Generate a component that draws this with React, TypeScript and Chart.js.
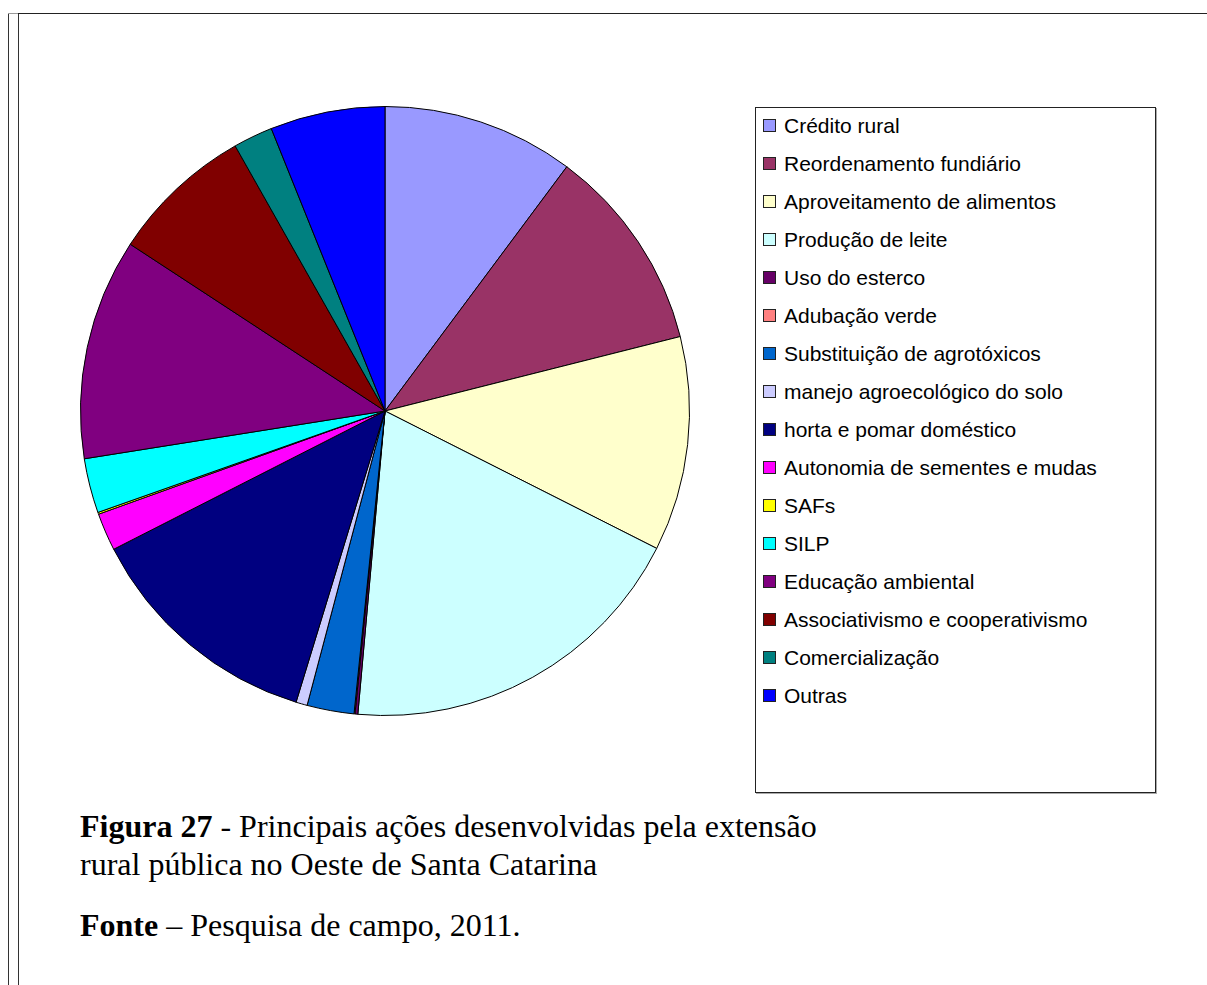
import React, { useEffect, useRef } from "react";
import { Chart, registerables } from "chart.js";

Chart.register(...registerables);

const categories: string[] = [
  "Crédito rural",
  "Reordenamento fundiário",
  "Aproveitamento de alimentos",
  "Produção de leite",
  "Uso do esterco",
  "Adubação verde",
  "Substituição de agrotóxicos",
  "manejo agroecológico do solo",
  "horta e pomar doméstico",
  "Autonomia de sementes e mudas",
  "SAFs",
  "SILP",
  "Educação ambiental",
  "Associativismo e cooperativismo",
  "Comercialização",
  "Outras",
];

const values: number[] = [10.2, 10.9, 11.4, 19.0, 0.15, 0.05, 2.5, 0.6, 12.8, 2.0, 0.1, 2.9, 11.75, 7.6, 2.1, 6.1];

const colors: string[] = [
  "#9999FF", "#993366", "#FFFFCC", "#CCFFFF", "#660066", "#FF8080", "#0066CC", "#CCCCFF",
  "#000080", "#FF00FF", "#FFFF00", "#00FFFF", "#800080", "#800000", "#008080", "#0000FF",
];

const captionBold = "Figura 27";
const captionLine1 = " - Principais ações desenvolvidas pela extensão";
const captionLine2 = "rural pública no Oeste de Santa Catarina";
const sourceBold = "Fonte";
const sourceText = " – Pesquisa de campo, 2011.";

export default function App() {
  const ref = useRef<HTMLCanvasElement | null>(null);

  useEffect(() => {
    if (!ref.current) return;
    const chart = new Chart(ref.current, {
      type: "pie",
      data: {
        labels: categories,
        datasets: [
          {
            data: values,
            backgroundColor: colors,
            borderColor: "#000000",
            borderWidth: 1,
          },
        ],
      },
      options: {
        responsive: false,
        animation: false,
        layout: { padding: 0 },
        plugins: { legend: { display: false }, tooltip: { enabled: false } },
      },
    });
    return () => chart.destroy();
  }, []);

  const serif = "'Liberation Serif', 'Times New Roman', serif";
  const sans = "'Liberation Sans', Arial, sans-serif";

  return (
    <div style={{ position: "absolute", left: 0, top: 0, width: 1207, height: 985, background: "#fff", overflow: "hidden" }}>
      <div style={{ position: "absolute", left: 8, top: 13, width: 1, height: 980, background: "#333" }} />
      <div style={{ position: "absolute", left: 18, top: 13, width: 1, height: 980, background: "#333" }} />
      <div style={{ position: "absolute", left: 8, top: 13, width: 10, height: 1, background: "#999" }} />
      <div style={{ position: "absolute", left: 18, top: 13, width: 1189, height: 1, background: "#222" }} />

      <canvas ref={ref} width={610} height={610} style={{ position: "absolute", left: 80, top: 106, width: 610, height: 610 }} />

      <div
        style={{
          position: "absolute",
          left: 755,
          top: 107,
          width: 401,
          height: 686,
          border: "1px solid #222",
          boxShadow: "1px 1px 0 #aaa",
          boxSizing: "border-box",
        }}
      >
        {categories.map((c, i) => (
          <div key={c} style={{ position: "absolute", left: 0, top: 18 + 38 * i - 13, height: 26, width: 395 }}>
            <div
              style={{
                position: "absolute",
                left: 7,
                top: 6,
                width: 13,
                height: 13,
                boxSizing: "border-box",
                border: "1px solid #222",
                background: colors[i],
              }}
            />
            <div
              style={{
                position: "absolute",
                left: 28,
                top: 0,
                height: 26,
                lineHeight: "26px",
                fontFamily: sans,
                fontSize: 21,
                color: "#000",
                whiteSpace: "nowrap",
              }}
            >
              {c}
            </div>
          </div>
        ))}
      </div>

      <div style={{ position: "absolute", left: 80, top: 807, fontFamily: serif, fontSize: 32, lineHeight: "38px", color: "#000", whiteSpace: "nowrap" }}>
        <div>
          <b>{captionBold}</b>
          {captionLine1}
        </div>
        <div>{captionLine2}</div>
      </div>
      <div style={{ position: "absolute", left: 80, top: 906, fontFamily: serif, fontSize: 32, lineHeight: "38px", color: "#000", whiteSpace: "nowrap" }}>
        <b>{sourceBold}</b>
        {sourceText}
      </div>
    </div>
  );
}
